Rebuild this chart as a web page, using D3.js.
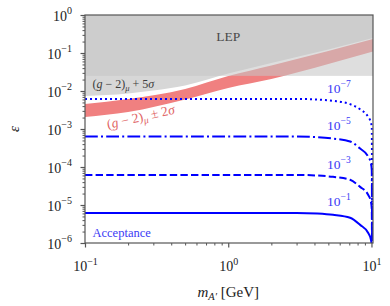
<!DOCTYPE html>
<html>
<head>
<meta charset="utf-8">
<script src="https://cdn.jsdelivr.net/npm/d3@7"></script>
<style>
  body { margin: 0; background: #fff; }
  svg text { font-family: "Liberation Serif", "DejaVu Serif", serif; }
</style>
</head>
<body>
<svg id="chart" width="390" height="306"></svg>
<script>
// (g-2)_mu + 5 sigma exclusion boundary
const sigma5Mass = [0.1, 0.2, 0.3, 0.5, 1, 2, 3, 5, 10.25];
const sigma5Eps = [0.00738, 0.0086, 0.0103, 0.0140, 0.0289, 0.0546, 0.0785, 0.1236, 0.248];

// (g-2)_mu +/- 2 sigma band
const bandMass = [0.1, 0.2, 0.5, 1, 2, 5, 10.25];
const bandHigh = [0.00455, 0.00616, 0.0113, 0.0248, 0.0469, 0.113, 0.2335];
const bandLow = [0.00207, 0.0028, 0.00597, 0.0120, 0.0207, 0.0514, 0.1095];

// LEP limit
const lepEps = 0.025;

// acceptance curves
const accMass = [0.1, 1, 3, 4.2, 5.39, 7.09, 8.33, 9.47, 9.9, 10.05, 10.15];
const acc7 = [6.2e-3, 6.2e-3, 6.2e-3, 5.95e-3, 5.5e-3, 4.5e-3, 3.3e-3, 2.1e-3, 1.5e-3, 1.15e-3, 1e-9];
const acc5 = [6.35e-4, 6.35e-4, 6.35e-4, 6.1e-4, 5.6e-4, 4.7e-4, 3.05e-4, 1.9e-4, 1.27e-4, 8.2e-5, 1e-10];
const acc3 = [6.2e-5, 6.2e-5, 6.2e-5, 5.95e-5, 5.5e-5, 4.6e-5, 3.0e-5, 1.86e-5, 1.25e-5, 8e-6, 1e-11];
const acc1 = [6.2e-6, 6.2e-6, 6.2e-6, 5.95e-6, 5.5e-6, 4.6e-6, 3.0e-6, 1.86e-6, 1.25e-6, 8e-7, 1e-12];

const accCurves = [
  {vals: acc7, dash: '2,3', label: '\u22127', labelEps: 0.0090},
  {vals: acc5, dash: '12.8,3.2,2,3.2', label: '\u22125', labelEps: 0.00092},
  {vals: acc3, dash: '7.4,3.2', label: '\u22123', labelEps: 9.0e-5},
  {vals: acc1, dash: null, label: '\u22121', labelEps: 9.2e-6}
];

const yMajor = [1e-6, 1e-5, 1e-4, 1e-3, 1e-2, 1e-1, 1];
const yExp = ['\u22126', '\u22125', '\u22124', '\u22123', '\u22122', '\u22121', '0'];
const xMajor = [0.1, 1, 10];
const xExp = ['\u22121', '0', '1'];

const margin = {top: 15, right: 17, bottom: 63, left: 85};
const W = 390, H = 306;
const width = W - margin.left - margin.right;
const height = H - margin.top - margin.bottom;

const svg = d3.select('#chart');
const g = svg.append('g').attr('transform', `translate(${margin.left},${margin.top})`);

const x = d3.scaleLog().domain([0.1, 10.25]).range([0, width]);
const y = d3.scaleLog().domain([1e-6, 1]).range([height, 0]);

g.append('clipPath').attr('id', 'clip')
  .append('rect').attr('width', width).attr('height', height);

const plot = g.append('g').attr('clip-path', 'url(#clip)');

// 5 sigma region
const sig5 = sigma5Mass.map((m, i) => ({m, e: sigma5Eps[i]}));
plot.append('path')
  .datum(sig5)
  .attr('fill', '#d7d7d7')
  .attr('d', d3.area().x(d => x(d.m)).y0(0).y1(d => y(d.e)).curve(d3.curveMonotoneX));

// red band
const band = bandMass.map((m, i) => ({m, hi: bandHigh[i], lo: bandLow[i]}));
plot.append('path')
  .datum(band)
  .attr('fill', '#f08080')
  .attr('d', d3.area().x(d => x(d.m)).y0(d => y(d.lo)).y1(d => y(d.hi)).curve(d3.curveMonotoneX));

// LEP
plot.append('rect')
  .attr('x', 0).attr('y', 0)
  .attr('width', width).attr('height', y(lepEps))
  .attr('fill', 'rgb(198,198,198)')
  .attr('fill-opacity', 0.575);

// acceptance curves
const line = d3.line().x(d => x(d.m)).y(d => y(d.e)).curve(d3.curveMonotoneX);
accCurves.forEach(c => {
  const pts = accMass.map((m, i) => ({m, e: c.vals[i]}));
  plot.append('path')
    .datum(pts)
    .attr('fill', 'none')
    .attr('stroke', '#0000ff')
    .attr('stroke-width', 2)
    .attr('stroke-dasharray', c.dash)
    .attr('d', line);

  const t = g.append('text')
    .attr('x', x(4.9)).attr('y', y(c.labelEps))
    .attr('fill', '#3a3af5')
    .attr('font-size', 13.5);
  t.append('tspan').text('10');
  t.append('tspan').attr('dy', -6).attr('font-size', 9.5).text(c.label);
});

// texts in plot
g.append('text')
  .attr('x', x(1)).attr('y', y(0.21))
  .attr('text-anchor', 'middle')
  .attr('fill', '#4a4a4a')
  .attr('font-size', 13.5)
  .text('LEP');

const t5 = g.append('text')
  .attr('x', 7.5).attr('y', y(0.0118))
  .attr('fill', '#3c3c3c')
  .attr('font-size', 12);
t5.append('tspan').text('(');
t5.append('tspan').attr('font-style', 'italic').text('g');
t5.append('tspan').text(' \u2212 2)');
t5.append('tspan').attr('font-style', 'italic').attr('font-size', 8.5).attr('dy', 2.5).text('\u03bc');
t5.append('tspan').attr('dy', -2.5).text(' + 5');
t5.append('tspan').attr('font-style', 'italic').text('\u03c3');

const t2 = g.append('text')
  .attr('transform', `translate(${23},${114}) rotate(-13)`)
  .attr('fill', '#e06464')
  .attr('font-size', 13.5);
t2.append('tspan').text('(');
t2.append('tspan').attr('font-style', 'italic').text('g');
t2.append('tspan').text(' \u2212 2)');
t2.append('tspan').attr('font-style', 'italic').attr('font-size', 9.5).attr('dy', 3).text('\u03bc');
t2.append('tspan').attr('dy', -3).text(' \u00b1 2');
t2.append('tspan').attr('font-style', 'italic').text('\u03c3');

g.append('text')
  .attr('x', 7.5).attr('y', height - 6)
  .attr('fill', '#3a3af5')
  .attr('font-size', 12.5)
  .text('Acceptance');

// minor ticks
const yMinor = [];
yMajor.slice(0, -1).forEach(v => { for (let k = 2; k <= 9; k++) yMinor.push(v * k); });
const xMinor = [];
xMajor.slice(0, -1).forEach(v => { for (let k = 2; k <= 9; k++) xMinor.push(v * k); });

g.append('g')
  .attr('transform', `translate(0,${height})`)
  .call(d3.axisBottom(x).tickValues(xMinor).tickSize(2.5).tickFormat(''))
  .call(a => a.select('.domain').remove())
  .call(a => a.selectAll('line').attr('stroke', '#555'));
g.append('g')
  .call(d3.axisLeft(y).tickValues(yMinor).tickSize(2.5).tickFormat(''))
  .call(a => a.select('.domain').remove())
  .call(a => a.selectAll('line').attr('stroke', '#555'));

// major ticks
const xAxisG = g.append('g')
  .attr('transform', `translate(0,${height})`)
  .call(d3.axisBottom(x).tickValues(xMajor).tickSize(4.5).tickFormat(''))
  .call(a => a.select('.domain').remove())
  .call(a => a.selectAll('line').attr('stroke', '#555').attr('stroke-width', 1.2));
xAxisG.selectAll('.tick').each(function(d, i) {
  const t = d3.select(this).append('text')
    .attr('y', 28).attr('fill', '#222').attr('font-size', 14)
    .attr('text-anchor', 'middle');
  t.append('tspan').text('10');
  t.append('tspan').attr('dy', -6.5).attr('font-size', 10).text(xExp[i]);
});

const yAxisG = g.append('g')
  .call(d3.axisLeft(y).tickValues(yMajor).tickSize(4.5).tickFormat(''))
  .call(a => a.select('.domain').remove())
  .call(a => a.selectAll('line').attr('stroke', '#555').attr('stroke-width', 1.2));
yAxisG.selectAll('.tick').each(function(d, i) {
  const t = d3.select(this).append('text')
    .attr('x', -13).attr('y', 5).attr('fill', '#222').attr('font-size', 14)
    .attr('text-anchor', 'end');
  t.append('tspan').text('10');
  t.append('tspan').attr('dy', -6.5).attr('font-size', 10).text(yExp[i]);
});

// frame
g.append('rect')
  .attr('width', width).attr('height', height)
  .attr('fill', 'none')
  .attr('stroke', '#555')
  .attr('stroke-width', 1.2);

// axis titles
const xt = svg.append('text')
  .attr('x', margin.left + x(1)).attr('y', 297)
  .attr('text-anchor', 'middle')
  .attr('fill', '#222')
  .attr('font-size', 15);
xt.append('tspan').attr('font-style', 'italic').text('m');
xt.append('tspan').attr('font-style', 'italic').attr('font-size', 10.5).attr('dy', 3).text('A\u2032');
xt.append('tspan').attr('dy', -3).text(' [GeV]');

svg.append('text')
  .attr('transform', `translate(19,129) rotate(-90)`)
  .attr('text-anchor', 'middle')
  .attr('fill', '#222')
  .attr('font-size', 15)
  .attr('font-style', 'italic')
  .text('\u03b5');
</script>
</body>
</html>
